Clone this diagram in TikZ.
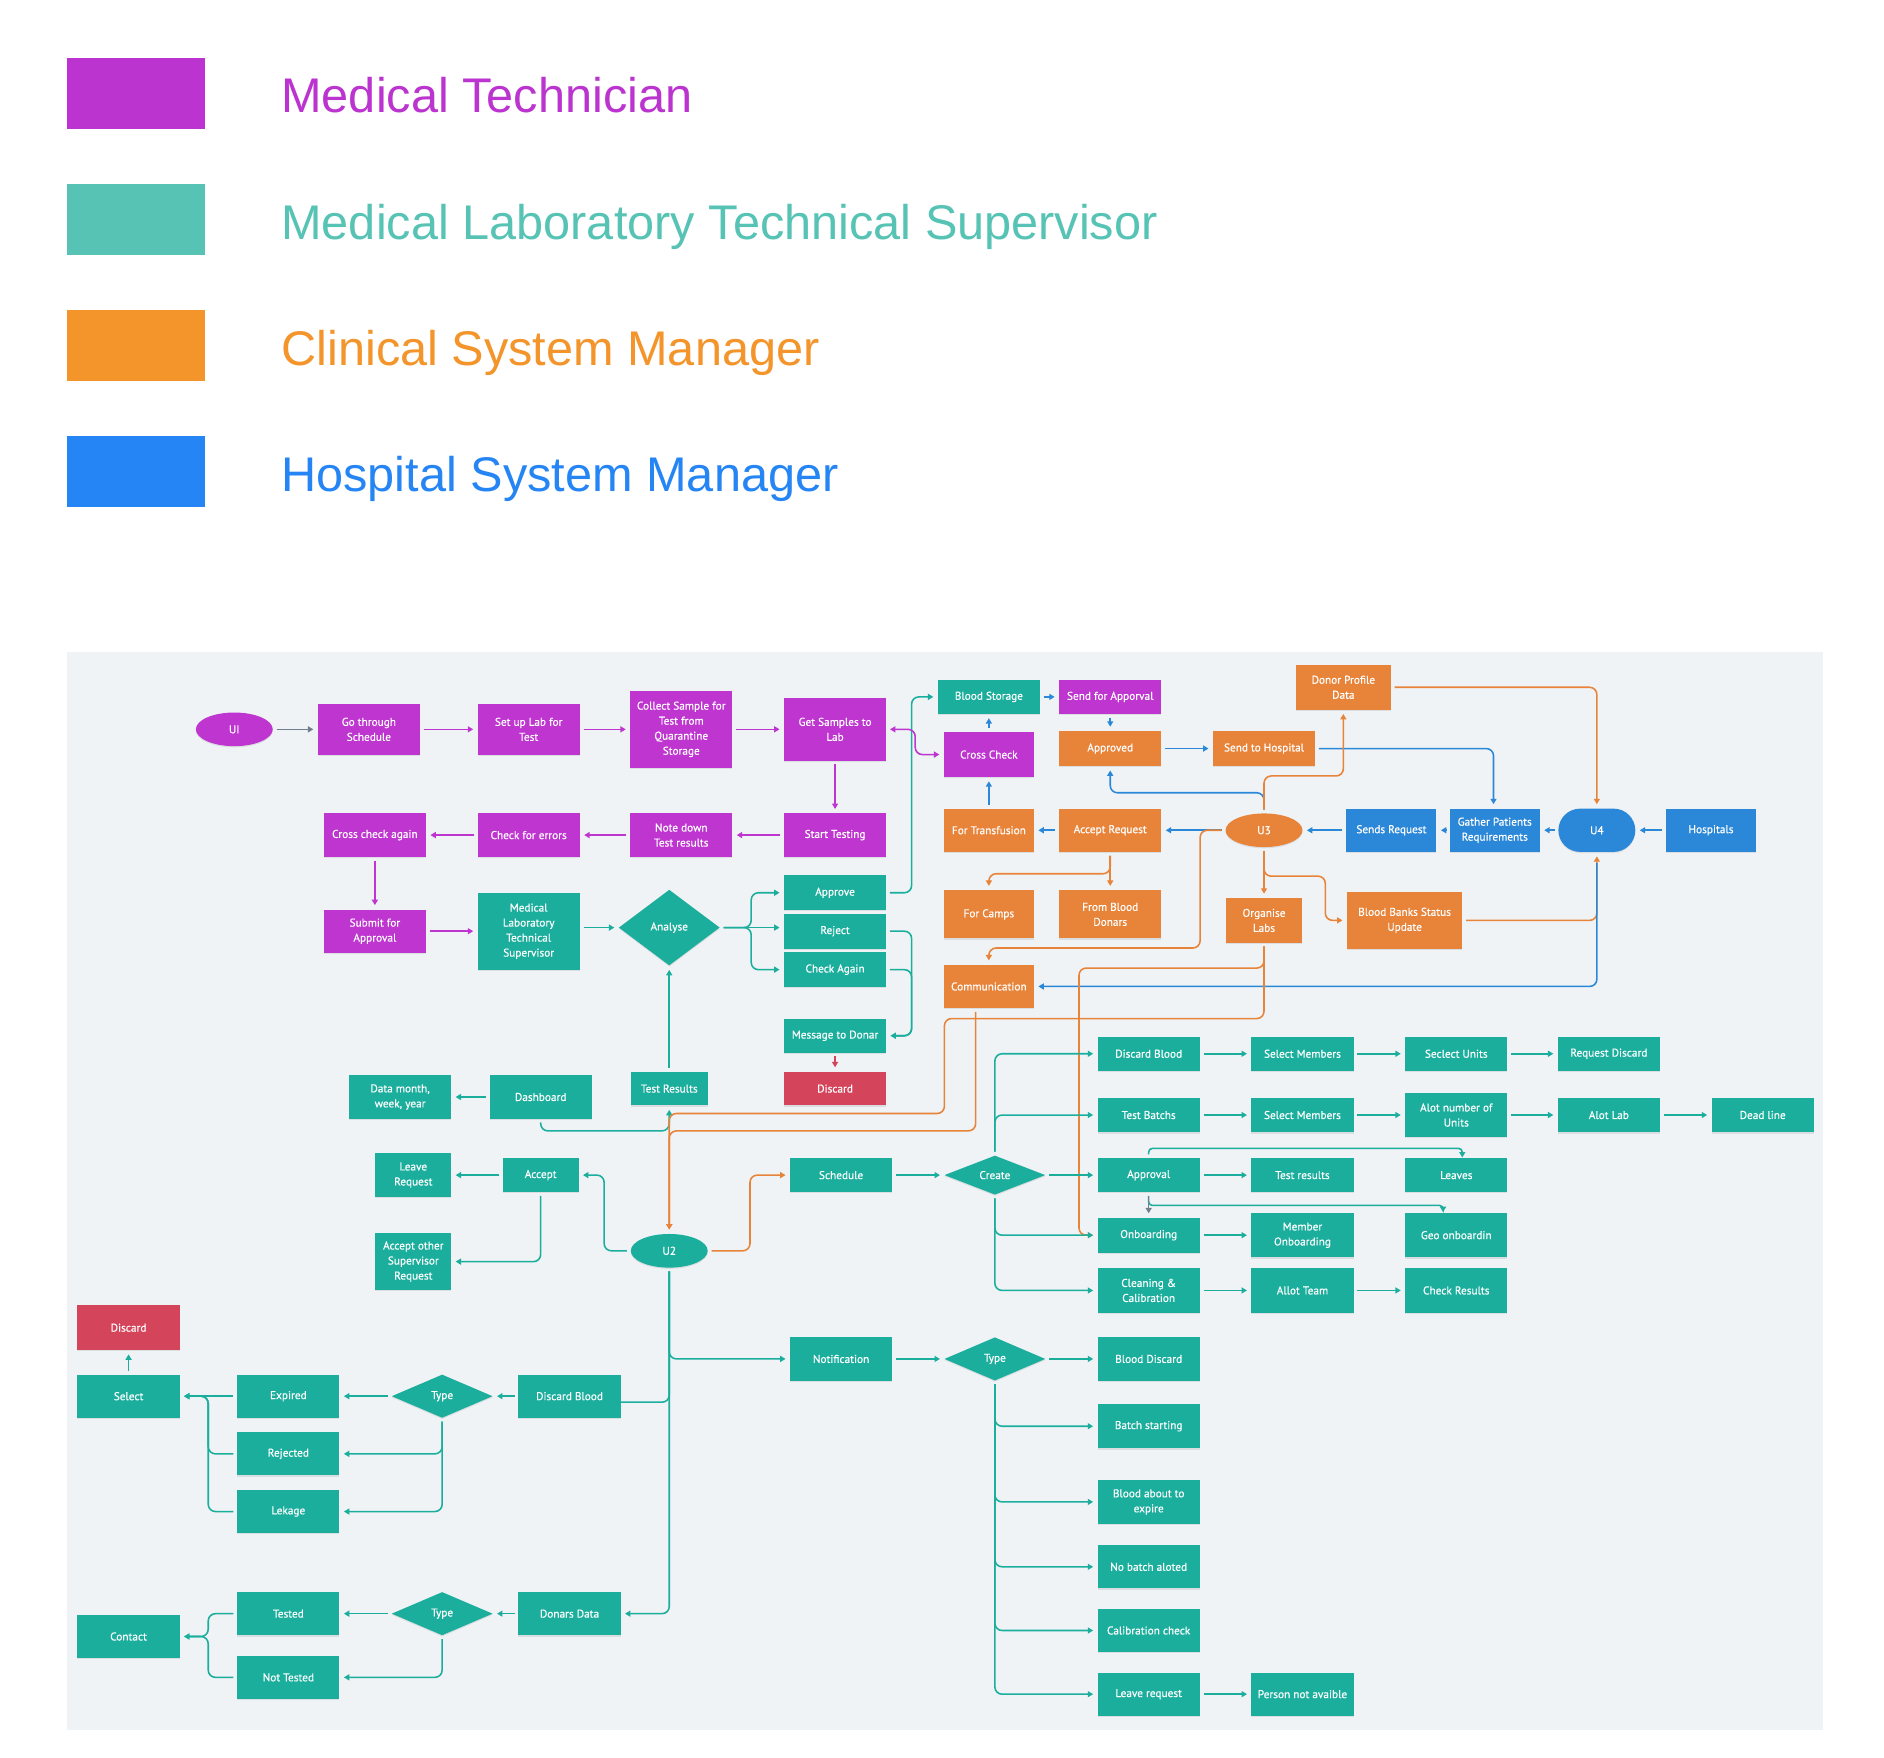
\documentclass[tikz,border=0pt]{standalone}
\usepackage{fontspec}
\newfontfamily\bxfam[FakeBold=0.4]{PT Sans}
\newfontfamily\lgfam{Liberation Sans}
\usetikzlibrary{arrows.meta,shapes.geometric,shadows}
\definecolor{cP}{HTML}{BE35CF}
\definecolor{cT}{HTML}{1BAE9D}
\definecolor{cO}{HTML}{E8843A}
\definecolor{cB}{HTML}{2B88D8}
\definecolor{cR}{HTML}{D4455B}
\definecolor{cG}{HTML}{6F7F8E}
\definecolor{lP}{HTML}{BC34CF}
\definecolor{lT}{HTML}{56C3B5}
\definecolor{lO}{HTML}{F4952B}
\definecolor{lB}{HTML}{2585F4}
\definecolor{bgc}{HTML}{EFF3F6}
\begin{document}
\begin{tikzpicture}[x=1pt,y=-1pt,
  bx/.style={rectangle, align=center, inner sep=0pt, text=white,
    font=\bxfam\fontsize{9.4}{12.5}\selectfont,
    drop shadow={shadow xshift=0pt,shadow yshift=-1pt,opacity=0.18},
    minimum width=85, minimum height=36},
  nP/.style={bx, fill=cP}, nT/.style={bx, fill=cT}, nO/.style={bx, fill=cO},
  nB/.style={bx, fill=cB}, nR/.style={bx, fill=cR},
  wh/.style 2 args={minimum width=#1, minimum height=#2},
  ell/.style={ellipse, minimum width=64, minimum height=28},
  dia/.style={diamond, minimum width=84, minimum height=36},
  ln/.style={line width=1.3pt, rounded corners=6pt, shorten <=3pt, shorten >=3.5pt,
    -{Triangle[length=4.5pt,width=5pt]}},
  lnP/.style={ln, draw=cP}, lnT/.style={ln, draw=cT}, lnO/.style={ln, draw=cO},
  lnB/.style={ln, draw=cB}, lnR/.style={ln, draw=cR}, lnG/.style={ln, draw=cG},
  leg/.style={anchor=base west, inner sep=0pt, font=\lgfam\fontsize{40.5}{48}\selectfont},
  sq/.style={rectangle, inner sep=0pt, minimum width=115, minimum height=59}
]
\useasboundingbox (0,0) rectangle (1568,1463);
\fill[white] (0,0) rectangle (1568,1463);

% ---------- legend ----------
\node[sq, fill=lP] (sq1) at (113.5,77.5) {};
\node[sq, fill=lT] (sq2) at (113.5,182.5) {};
\node[sq, fill=lO] (sq3) at (113.5,287.5) {};
\node[sq, fill=lB] (sq4) at (113.5,392.5) {};
\node[leg, text=lP] (lg1) at (234,94) {Medical Technician};
\node[leg, text=lT] (lg2) at (234,199) {Medical Laboratory Technical Supervisor};
\node[leg, text=lO] (lg3) at (234,304) {Clinical System Manager};
\node[leg, text=lB] (lg4) at (234,409) {Hospital System Manager};

% ---------- background ----------
\fill[bgc] (56,543) rectangle (1517,1440);

% ---------- purple ----------
\node[ell, fill=cP, text=white, font=\bxfam\fontsize{9.4}{12.5}\selectfont,
  drop shadow={shadow xshift=0pt,shadow yshift=-1pt,opacity=0.18}] (UI) at (195,607) {UI};
\node[nP, wh={85}{42}] (pGo) at (307,607) {Go through\\Schedule};
\node[nP, wh={85}{42}] (pSet) at (440,607) {Set up Lab for\\Test};
\node[nP, wh={85}{64}] (pCol) at (567,607) {Collect Sample for\\Test from\\Quarantine\\Storage};
\node[nP, wh={85}{52}] (pGet) at (695,607) {Get Samples to\\Lab};
\node[nP] (pStart) at (695,695) {Start Testing};
\node[nP] (pNote) at (567,695) {Note down\\Test results};
\node[nP] (pErr) at (440,695) {Check for errors};
\node[nP] (pCross) at (312,695) {Cross check again};
\node[nP] (pSub) at (312,775) {Submit for\\Approval};
\node[nP, wh={75}{37}] (pCC) at (823,628) {Cross Check};
\node[nP, wh={85}{28}] (pSend) at (924,580) {Send for Apporval};

% ---------- teal upper ----------
\node[nT, wh={85}{64}] (tMLTS) at (440,775) {Medical\\Laboratory\\Technical\\Supervisor};
\node[nT, dia, wh={84}{63}] (dAn) at (557,772) {Analyse};
\node[nT, wh={85}{29}] (tApp) at (695,743) {Approve};
\node[nT, wh={85}{29}] (tRej) at (695,775) {Reject};
\node[nT, wh={85}{29}] (tChk) at (695,807) {Check Again};
\node[nT, wh={85}{28}] (tMsg) at (695,862) {Message to Donar};
\node[nR, wh={85}{28}] (rDis1) at (695,906) {Discard};
\node[nT, wh={64}{28}] (tTR) at (557,906) {Test Results};
\node[nT, wh={85}{28}] (tBS) at (823,580) {Blood Storage};

% ---------- orange ----------
\node[nO, wh={85}{29}] (oAppd) at (924,623) {Approved};
\node[nO, wh={85}{29}] (oSH) at (1052,623) {Send to Hospital};
\node[nO, wh={79}{37}] (oDP) at (1118,572) {Donor Profile\\Data};
\node[nO, wh={75}{36}] (oFT) at (823,691) {For Transfusion};
\node[nO, wh={85}{36}] (oAR) at (924,691) {Accept Request};
\node[ell, fill=cO, text=white, font=\bxfam\fontsize{9.4}{12.5}\selectfont,
  drop shadow={shadow xshift=0pt,shadow yshift=-1pt,opacity=0.18}] (U3) at (1052,691) {U3};
\node[nO, wh={75}{40}] (oFC) at (823,761) {For Camps};
\node[nO, wh={85}{40}] (oFB) at (924,761) {From Blood\\Donars};
\node[nO, wh={64}{37}] (oOL) at (1052,766) {Organise\\Labs};
\node[nO, wh={96}{47}] (oBB) at (1169,766) {Blood Banks Status\\Update};
\node[nO, wh={75}{36}] (oCom) at (823,821) {Communication};

% ---------- blue ----------
\node[nB, wh={75}{36}] (bSR) at (1158,691) {Sends Request};
\node[nB, wh={75}{36}] (bGP) at (1244,691) {Gather Patients\\Requirements};
\node[nB, wh={64}{36}, rounded corners=18pt] (U4) at (1329,691) {U4};
\node[nB, wh={75}{36}] (bHos) at (1424,691) {Hospitals};

% ---------- teal middle ----------
\node[nT] (tDash) at (450,913) {Dashboard};
\node[nT] (tData) at (333,913) {Data month,\\week, year};
\node[nT, wh={63}{36}] (tLeave) at (344,978) {Leave\\Request};
\node[nT, wh={63}{28}] (tAcc) at (450,978) {Accept};
\node[nT, wh={63}{47}] (tAccO) at (344,1050) {Accept other\\Supervisor\\Request};
\node[ell, fill=cT, text=white, font=\bxfam\fontsize{9.4}{12.5}\selectfont,
  drop shadow={shadow xshift=0pt,shadow yshift=-1pt,opacity=0.18}] (U2) at (557,1041) {U2};
\node[nT, wh={85}{28}] (tSch) at (700,978) {Schedule};
\node[nT, dia, wh={84}{30}] (dCreate) at (828,978) {Create};

\node[nT, wh={85}{28}] (tDB) at (956,877) {Discard Blood};
\node[nT, wh={85}{29}] (tTB) at (956,928) {Test Batchs};
\node[nT, wh={85}{28}] (tApl) at (956,978) {Approval};
\node[nT, wh={85}{29}] (tOn) at (956,1028) {Onboarding};
\node[nT, wh={85}{37}] (tCl) at (956,1074) {Cleaning \&\\Calibration};
\node[nT, wh={85}{28}] (tSM1) at (1084,877) {Select Members};
\node[nT, wh={85}{29}] (tSM2) at (1084,928) {Select Members};
\node[nT, wh={85}{28}] (tTRs) at (1084,978) {Test results};
\node[nT, wh={85}{37}] (tMO) at (1084,1028) {Member\\Onboarding};
\node[nT, wh={85}{37}] (tAT) at (1084,1074) {Allot Team};
\node[nT, wh={85}{28}] (tSU) at (1212,877) {Seclect Units};
\node[nT, wh={85}{37}] (tAN) at (1212,928) {Alot number of\\Units};
\node[nT, wh={85}{28}] (tLv) at (1212,978) {Leaves};
\node[nT, wh={85}{37}] (tGeo) at (1212,1028) {Geo onboardin};
\node[nT, wh={85}{37}] (tCR) at (1212,1074) {Check Results};
\node[nT, wh={85}{28}] (tRD) at (1339,877) {Request Discard};
\node[nT, wh={85}{29}] (tAL) at (1339,928) {Alot Lab};
\node[nT, wh={85}{29}] (tDL) at (1467,928) {Dead line};

% ---------- notification ----------
\node[nT] (tNot) at (700,1131) {Notification};
\node[nT, dia] (dType3) at (828,1131) {Type};
\node[nT] (tBD) at (956,1131) {Blood Discard};
\node[nT, wh={85}{37}] (tBSt) at (956,1187) {Batch starting};
\node[nT, wh={85}{37}] (tBA) at (956,1250) {Blood about to\\expire};
\node[nT] (tNB) at (956,1304) {No batch aloted};
\node[nT] (tCC) at (956,1357) {Calibration check};
\node[nT] (tLR) at (956,1410) {Leave request};
\node[nT] (tPN) at (1084,1410) {Person not avaible};

% ---------- bottom left ----------
\node[nR, wh={85}{37}] (rDis2) at (107,1105) {Discard};
\node[nT] (tSel) at (107,1162) {Select};
\node[nT] (tExp) at (240,1162) {Expired};
\node[nT, dia] (dType1) at (368,1162) {Type};
\node[nT] (tDB2) at (474,1162) {Discard Blood};
\node[nT] (tRejd) at (240,1210) {Rejected};
\node[nT] (tLek) at (240,1258) {Lekage};
\node[nT] (tTst) at (240,1343) {Tested};
\node[nT, dia] (dType2) at (368,1343) {Type};
\node[nT] (tDD) at (474,1343) {Donars Data};
\node[nT] (tCon) at (107,1362) {Contact};
\node[nT] (tNT) at (240,1396) {Not Tested};

% ================= connectors =================
\draw[lnG] (UI.east) -- (pGo.west);
\draw[lnP] (pGo.east) -- (pSet.west);
\draw[lnP] (pSet.east) -- (pCol.west);
\draw[lnP] (pCol.east) -- (pGet.west);
\draw[lnP] (pGet.south) -- (pStart.north);
\draw[lnP] (pStart.west) -- (pNote.east);
\draw[lnP] (pNote.west) -- (pErr.east);
\draw[lnP] (pErr.west) -- (pCross.east);
\draw[lnP] (pCross.south) -- (pSub.north);
\draw[lnP] (pSub.east) -- (tMLTS.west);
\draw[lnT] (tMLTS.east |- dAn.west) -- (dAn.west);
\draw[lnT] (dAn.east) -- ++(26,0) |- (tApp.west);
\draw[lnT] (dAn.east) -- (dAn.east -| tRej.west);
\draw[lnT] (dAn.east) -- ++(26,0) |- (tChk.west);
\draw[lnT] (tApp.east) -- ++(21,0) |- (tBS.west);
\draw[lnT] (tRej.east) -- ++(21,0) |- (tMsg.east);
\draw[lnT] (tChk.east) -- ++(21,0) |- (tMsg.east);
\draw[lnR] (tMsg.south) -- (rDis1.north);
\draw[lnT] (tTR.north) -- (dAn.south);
\draw[lnP, {Triangle[length=4.5pt,width=5pt]}-{Triangle[length=4.5pt,width=5pt]}] (pGet.east) -- ++(24,0) |- (pCC.west);

% blue
\draw[lnB] (tBS.east) -- (pSend.west);
\draw[lnB] (pSend.south) -- (oAppd.north);
\draw[lnB] (pCC.north) -- (tBS.south);
\draw[lnB] (oFT.north) -- (pCC.south);
\draw[lnB] (oAR.west) -- (oFT.east);
\draw[lnB] (oAppd.east) -- (oSH.west);
\draw[lnB] (oSH.east) -| ([xshift=-1pt]bGP.north);
\draw[lnB] (U3.north) -- ++(0,-17) -| (oAppd.south);
\draw[lnB] (bSR.west) -- (U3.east);
\draw[lnB] (bGP.west) -- (bSR.east);
\draw[lnB] (U4.west) -- (bGP.east);
\draw[lnB] (bHos.west) -- (U4.east);
\draw[lnB] (U3.west) -- (oAR.east);

% orange
\draw[lnO] (U3.north) -- ++(0,-31) -| (oDP.south);
\draw[lnO] (oDP.east) -| (U4.north);
\draw[lnO] (U3.west) -- ++(-21,0) -- ++(0,98) -| (oCom.north);
\draw[lnO] (U3.south) -- (oOL.north);
\draw[lnO] (U3.south) -- ++(0,24) -- ++(51,0) |- (oBB.west);
\draw[lnO] (oAR.south) -- (oFB.north);
\draw[lnO] (oAR.south) -- ++(0,18) -| (oFC.north);
\draw[lnO] (oBB.east) -| (U4.south);
\draw[lnB, shorten <=9pt] (U4.south) |- (oCom.east);

% teal middle
\draw[lnT] (tDash.south) -- ++(0,10) -| (tTR.south);
\draw[lnT] (tDash.west) -- (tData.east);
\draw[lnT] (tAcc.west) -- (tLeave.east);
\draw[lnT] (tAcc.south) |- (tAccO.east);
\draw[lnT] (U2.west) -- ++(-22,0) |- (tAcc.east);
\draw[lnO] (U2.east) -- ++(35,0) |- (tSch.west);
\draw[lnT] (tSch.east) -- (dCreate.west);
\draw[lnT] (U2.south) |- (tNot.west);
\draw[lnT] (U2.south) |- (tDD.east);
\draw[lnT, -, shorten >=0pt] (U2.south) |- ([yshift=-5pt]tDB2.east);

\draw[lnO] (oOL.south) -- ++(0,21) -- ++(-154,0) |- (tOn.west);
\draw[lnO] (oOL.south) -- ++(0,63) -- ++(-266,0) -- ++(0,79) -| (U2.north);
\draw[lnO] ([xshift=-11pt]oCom.south) -- ++(0,102) -| (U2.north);

% create
\draw[lnT] (dCreate.north) |- (tDB.west);
\draw[lnT] (dCreate.north) |- (tTB.west);
\draw[lnT] (dCreate.east) -- (tApl.west);
\draw[lnT] (dCreate.south) |- (tOn.west);
\draw[lnT] (dCreate.south) |- (tCl.west);
\draw[lnT] (tDB.east) -- (tSM1.west);
\draw[lnT] (tSM1.east) -- (tSU.west);
\draw[lnT] (tSU.east) -- (tRD.west);
\draw[lnT] (tTB.east) -- (tSM2.west);
\draw[lnT] (tSM2.east) -- (tAN.west);
\draw[lnT] (tAN.east) -- (tAL.west);
\draw[lnT] (tAL.east) -- (tDL.west);
\draw[lnT] (tApl.east) -- (tTRs.west);
\draw[lnT] (tOn.east) -- (tMO.west);
\draw[lnT] (tCl.east) -- (tAT.west);
\draw[lnT] (tAT.east) -- (tCR.west);
\draw[lnT, shorten >=0.5pt, rounded corners=3pt] (tApl.north) -- ++(0,-8) -| ([xshift=5pt]tLv.north);
\draw[lnT, shorten >=0.5pt, rounded corners=3pt] (tApl.south) -- ++(0,11) -| ([xshift=-11pt]tGeo.north);
\draw[lnG] (tApl.south) -- (tOn.north);

% notification
\draw[lnT] (tNot.east) -- (dType3.west);
\draw[lnT] (dType3.east) -- (tBD.west);
\foreach \n in {tBSt,tBA,tNB,tCC,tLR} \draw[lnT] (dType3.south) |- (\n.west);
\draw[lnT] (tLR.east) -- (tPN.west);

% bottom left
\draw[lnT] (tDB2.west) -- (dType1.east);
\draw[lnT] (dType1.west) -- (tExp.east);
\draw[lnT] (dType1.south) |- (tRejd.east);
\draw[lnT] (dType1.south) |- (tLek.east);
\draw[lnT] (tExp.west) -- (tSel.east);
\draw[lnT] (tRejd.west) -- ++(-24,0) |- (tSel.east);
\draw[lnT] (tLek.west) -- ++(-24,0) |- (tSel.east);
\draw[lnT] (tSel.north) -- (rDis2.south);
\draw[lnT] (tDD.west) -- (dType2.east);
\draw[lnT] (dType2.west) -- (tTst.east);
\draw[lnT] (dType2.south) |- (tNT.east);
\draw[lnT] (tTst.west) -- ++(-24,0) |- (tCon.east);
\draw[lnT] (tNT.west) -- ++(-24,0) |- (tCon.east);
\end{tikzpicture}
\end{document}
